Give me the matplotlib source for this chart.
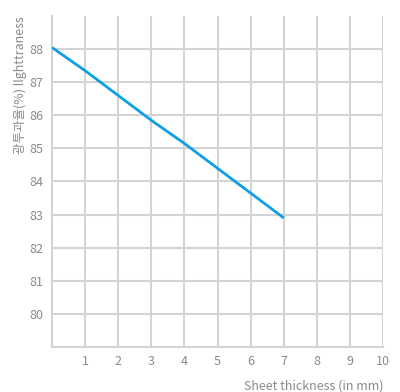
import matplotlib.pyplot as plt

plt.rcParams['font.family'] = ['Noto Sans CJK KR', 'DejaVu Sans']

# thickness (mm) vs light transmittance (%)
thickness = [0, 1, 2, 3, 4, 5, 6, 7]
transmittance = [88.05, 87.35, 86.6, 85.85, 85.15, 84.4, 83.65, 82.9]

x_ticks = [1, 2, 3, 4, 5, 6, 7, 8, 9, 10]
y_ticks = [80, 81, 82, 83, 84, 85, 86, 87, 88]

grid_col = '#d3d3d3'
text_col = '#8a8a8a'

fig = plt.figure(figsize=(4, 3.92), dpi=100)
ax = fig.add_axes([0.13, 0.115, 0.8275, 0.844])

ax.plot(thickness, transmittance, color='#0f9fe4', linewidth=2, solid_capstyle='butt', zorder=3)

ax.set_xlim(0, 10)
ax.set_ylim(79, 89)
ax.set_xticks(x_ticks)
ax.set_yticks(y_ticks)
ax.grid(True, color=grid_col, linewidth=1.5)
ax.tick_params(length=0, colors=text_col, labelsize=9)
ax.tick_params(axis='y', pad=6.5)
ax.tick_params(axis='x', pad=5.5)

for s in ['top', 'right']:
    ax.spines[s].set_visible(False)
for s in ['left', 'bottom']:
    ax.spines[s].set_color(grid_col)
    ax.spines[s].set_linewidth(1.5)

ax.set_xlabel('Sheet thickness (in mm)', color=text_col, fontsize=9)
ax.xaxis.set_label_coords(1.0, -0.1)
ax.xaxis.label.set_horizontalalignment('right')
ax.set_ylabel('광투과율(%) llghttraness', color=text_col, fontsize=9)
ax.yaxis.set_label_coords(-0.115, 1.0)
ax.yaxis.label.set_verticalalignment('top')
ax.yaxis.label.set_horizontalalignment('right')

fig.savefig('out.png', dpi=100)
